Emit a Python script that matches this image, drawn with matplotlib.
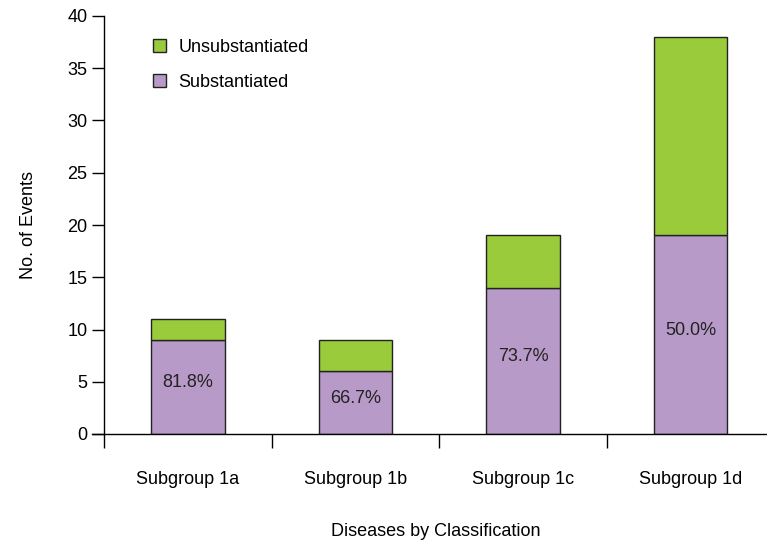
import matplotlib.pyplot as plt
import numpy as np

plt.rcParams['font.family'] = ['Liberation Sans', 'DejaVu Sans']

groups = ["Subgroup 1a", "Subgroup 1b", "Subgroup 1c", "Subgroup 1d"]
substantiated = [9, 6, 14, 19]
unsubstantiated = [2, 3, 5, 19]
pct_labels = ["81.8%", "66.7%", "73.7%", "50.0%"]

purple = "#b89ac8"
green = "#9acb3b"
fs = 13

fig = plt.figure(figsize=(7.67, 5.43), dpi=100)
ax = fig.add_axes([104 / 767, 109 / 543, 1 - 104 / 767, 418 / 543])

x = np.arange(len(groups))
w = 0.44
ax.bar(x, substantiated, w, color=purple, edgecolor="#222222", linewidth=1,
       label="Substantiated")
ax.bar(x, unsubstantiated, w, bottom=substantiated, color=green,
       edgecolor="#222222", linewidth=1, label="Unsubstantiated")

for xi, s, lab in zip(x, substantiated, pct_labels):
    ax.text(xi, s / 2 + 0.4, lab, ha="center", va="center", fontsize=fs,
            color="#222222")

ax.set_yticks(range(0, 41, 5))
ax.tick_params(axis="y", direction="out", length=9, width=1, labelsize=fs,
               pad=3)

# boundary ticks as major, names as minor without tick marks
ax.set_xticks(np.arange(-0.5, len(groups), 1.0))
ax.set_xticklabels([])
ax.tick_params(axis="x", which="major", direction="out", length=10, width=1)
ax.set_xticks(x, minor=True)
ax.set_xticklabels(groups, minor=True, fontsize=fs)
ax.tick_params(axis="x", which="minor", length=0, pad=27)

ax.set_xlim(-0.5, (767 - 104) / 167.6 - 0.5)
ax.set_ylim(0, 40)

for s in ["top", "right"]:
    ax.spines[s].set_visible(False)
ax.spines["bottom"].set_bounds(-0.5 - 12 / 167.6, ax.get_xlim()[1])
ax.spines["left"].set_linewidth(1)
ax.spines["bottom"].set_linewidth(1)

ax.set_xlabel("Diseases by Classification", fontsize=fs, labelpad=25)
ax.set_ylabel("No. of Events", fontsize=fs, labelpad=22)

handles, labels = ax.get_legend_handles_labels()
ax.legend(handles[::-1], labels[::-1], loc="upper left",
          bbox_to_anchor=(0.05, 0.985), frameon=False, fontsize=fs,
          handlelength=0.7, handleheight=0.7, labelspacing=1.0,
          handletextpad=0.7)

fig.savefig("out.png", dpi=100)
